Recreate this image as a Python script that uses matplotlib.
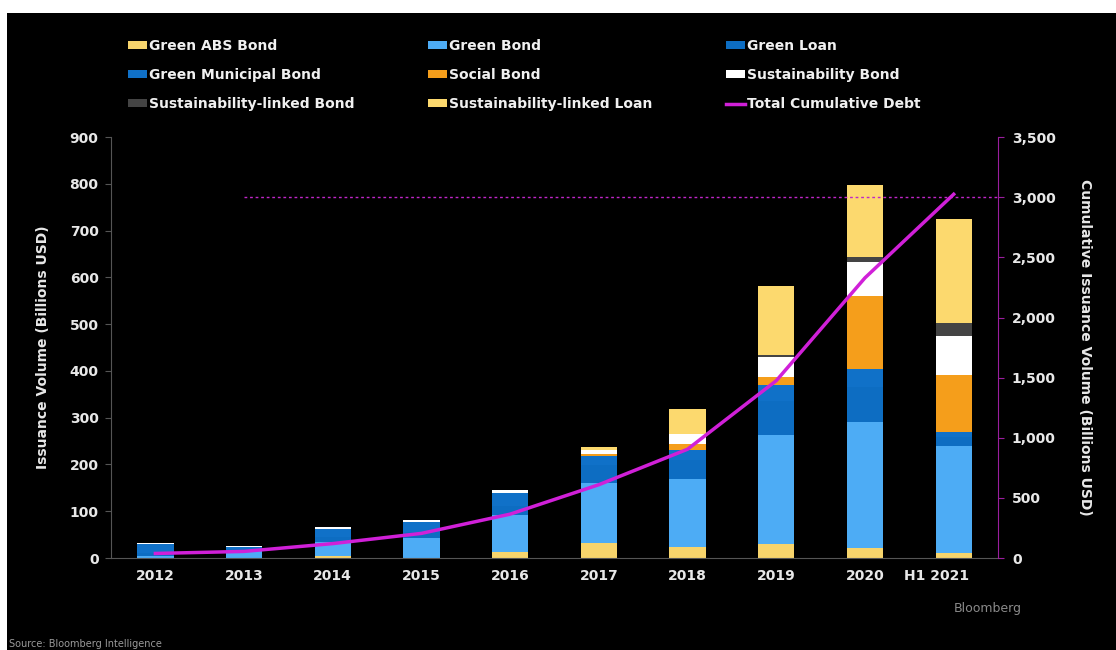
import numpy as np
import matplotlib.pyplot as plt
import matplotlib.transforms as mtransforms
from matplotlib.patches import Rectangle

years = ['2012', '2013', '2014', '2015', '2016', '2017', '2018', '2019', '2020', 'H1 2021']

green_abs = [0, 0, 5, 0, 12, 32, 24, 31, 21, 11]
green_bond = [5, 16, 30, 42, 80, 128, 144, 232, 269, 228]
green_loan = [6, 3, 10, 14, 20, 38, 42, 72, 76, 20]
green_muni = [18, 5, 17, 22, 28, 20, 22, 35, 38, 11]
social_bond = [0, 0, 0, 0, 0, 4, 12, 18, 156, 121]
sust_bond = [3, 2, 4, 4, 6, 10, 21, 42, 72, 84]
sl_bond = [0, 0, 0, 0, 0, 0, 0, 4, 11, 27]
sl_loan = [0, 0, 0, 0, 0, 5, 54, 148, 154, 224]
cumulative = [38, 55, 120, 205, 365, 610, 905, 1475, 2330, 3025]

series = [
    ('Green ABS Bond', green_abs, '#F7D46C'),
    ('Green Bond', green_bond, '#4DACF5'),
    ('Green Loan', green_loan, '#0D6DC2'),
    ('Green Municipal Bond', green_muni, '#1071C8'),
    ('Social Bond', social_bond, '#F59E1B'),
    ('Sustainability Bond', sust_bond, '#FFFFFF'),
    ('Sustainability-linked Bond', sl_bond, '#444444'),
    ('Sustainability-linked Loan', sl_loan, '#FCD96E'),
]

plt.rcParams['font.family'] = 'DejaVu Sans'
plt.rcParams['font.weight'] = 'bold'

fig = plt.figure(figsize=(11.16, 6.5), dpi=100, facecolor='white')
fig.patches.append(Rectangle((7 / 1116, 0), 1, 1 - 13 / 650, transform=fig.transFigure,
                             facecolor='black', edgecolor='none', zorder=-10))

ax = fig.add_axes([0.0995, 0.1415, 0.7948, 0.6475])
ax.set_facecolor('none')
x = np.arange(len(years))
bottom = np.zeros(len(years))
handles = []
for name, vals, col in series:
    b = ax.bar(x, vals, 0.41, bottom=bottom, color=col, label=name, zorder=2)
    bottom += np.array(vals)
    handles.append(b)

ax.set_xlim(-0.5, 9.5)
ax.set_ylim(0, 900)
ax.set_yticks(range(0, 901, 100))
ax.set_xticks(x)
ax.set_xticklabels(years)
ax.tick_params(axis='x', length=0, pad=8, colors='#E8E8E8', labelsize=10)
ax.tick_params(axis='y', length=4, color='#555555', colors='#E8E8E8', labelsize=10, pad=5)
# H1 2021 label sits a bit left of its bar
lab = ax.get_xticklabels()[-1]
lab.set_transform(lab.get_transform() + mtransforms.ScaledTranslation(-0.17, 0, fig.dpi_scale_trans))
for s in ['top', 'right']:
    ax.spines[s].set_visible(False)
ax.spines['left'].set_color('#555555')
ax.spines['bottom'].set_color('#555555')
ax.set_ylabel('Issuance Volume (Billions USD)', color='#E8E8E8', fontsize=10,
              fontweight='bold', labelpad=14)

ax2 = ax.twinx()
ax2.set_ylim(0, 3500)
ax2.set_yticks(range(0, 3501, 500))
ax2.set_yticklabels([f'{v:,}' for v in range(0, 3501, 500)])
ax2.tick_params(axis='y', length=4, color='#9A1E9E', colors='#E8E8E8', labelsize=10, pad=6)
for s in ['top', 'left', 'bottom']:
    ax2.spines[s].set_visible(False)
ax2.spines['right'].set_color('#9A1E9E')
ax2.set_ylabel('Cumulative Issuance Volume (Billions USD)', color='#E8E8E8', fontsize=10,
               fontweight='bold', rotation=270, labelpad=26)
ax2.hlines(3000, 1, 9.5, colors='#C026C8', linestyles=(0, (2, 2)), linewidth=1)
line, = ax2.plot(x, cumulative, color='#D020D8', linewidth=2.5, label='Total Cumulative Debt', zorder=5)
handles.append(line)

order = [0, 3, 6, 1, 4, 7, 2, 5, 8]
leg = fig.legend([handles[i] for i in order], [handles[i].get_label() for i in order],
                 loc='upper left', bbox_to_anchor=(0.1035, 0.96), ncol=3, frameon=False,
                 fontsize=10, labelcolor='#F0F0F0', handlelength=1.4, handleheight=0.5,
                 handletextpad=0.1, labelspacing=1.1, columnspacing=5.3)

fig.text(0.885, 0.058, 'Bloomberg', color='#8A8A8A', fontsize=9, weight='normal', ha='center')
fig.text(0.008, 0.004, 'Source: Bloomberg Intelligence', color='#9A9A9A', fontsize=7, weight='normal')

fig.savefig('out.png', dpi=100, facecolor=fig.get_facecolor())
